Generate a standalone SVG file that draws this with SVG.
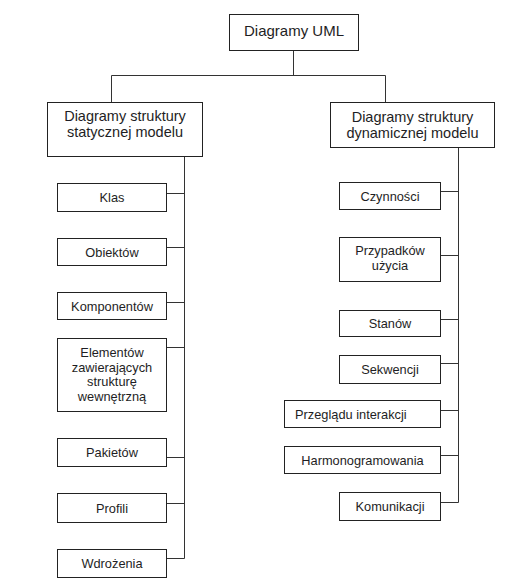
<svg xmlns="http://www.w3.org/2000/svg" width="524" height="583" viewBox="0 0 524 583">
<style>
  .box { fill: #ffffff; stroke: #222222; stroke-width: 1; }
  .conn { fill: none; stroke: #333333; stroke-width: 1; }
  .t { font-family: "Liberation Sans", Arial, sans-serif; fill: #1e1e24; text-anchor: middle; }
  .big { font-size: 15px; }
  .mid { font-size: 14.5px; }
  .small { font-size: 12.8px; }
</style>
<rect width="524" height="583" fill="#ffffff"/>
<g id="connectors">
  <path class="conn" d="M293.5 50 V75.5 M111.5 75.5 H385.5 M111.5 75.5 V102 M385.5 75.5 V102"/>
  <path class="conn" d="M184.5 156 V558.5 M167 193.5 H184.5 M167 247.5 H184.5 M167 302.5 H184.5 M167 347.5 H184.5 M167 457.5 H184.5 M167 503.5 H184.5 M167 558.5 H184.5"/>
  <path class="conn" d="M458.5 147 V502.5 M440 191.5 H458.5 M440 255.5 H458.5 M440 319.5 H458.5 M440 363.5 H458.5 M440 410.5 H458.5 M440 455.5 H458.5 M440 502.5 H458.5"/>
</g>
<g id="root">
  <rect class="box" x="229.5" y="14.5" width="129" height="36"/>
  <text class="t big" x="294" y="36">Diagramy UML</text>
</g>
<g id="static">
  <rect class="box" x="47.5" y="102.5" width="155" height="54"/>
  <text class="t mid" x="125" y="120.5">Diagramy struktury</text>
  <text class="t mid" x="125" y="136.5">statycznej modelu</text>
</g>
<g id="dynamic">
  <rect class="box" x="330.5" y="102.5" width="164" height="45"/>
  <text class="t mid" x="412.5" y="121.5">Diagramy struktury</text>
  <text class="t mid" x="412.5" y="137.5">dynamicznej modelu</text>
</g>
<g id="klas">
  <rect class="box" x="57.5" y="183.5" width="109" height="28"/>
  <text class="t small" x="112" y="202">Klas</text>
</g>
<g id="obiektow">
  <rect class="box" x="57.5" y="238.5" width="109" height="27"/>
  <text class="t small" x="112" y="256.5">Obiektów</text>
</g>
<g id="komponentow">
  <rect class="box" x="57.5" y="292.5" width="109" height="27"/>
  <text class="t small" x="112" y="310.5">Komponentów</text>
</g>
<g id="elementow">
  <rect class="box" x="57.5" y="338.5" width="109" height="73"/>
  <text class="t small" x="112" y="357">Elementów</text>
  <text class="t small" x="112" y="371.5">zawierających</text>
  <text class="t small" x="112" y="386">strukturę</text>
  <text class="t small" x="112" y="400.5">wewnętrzną</text>
</g>
<g id="pakietow">
  <rect class="box" x="57.5" y="438.5" width="109" height="28"/>
  <text class="t small" x="112" y="457">Pakietów</text>
</g>
<g id="profili">
  <rect class="box" x="57.5" y="493.5" width="109" height="29"/>
  <text class="t small" x="112" y="512.5">Profili</text>
</g>
<g id="wdrozenia">
  <rect class="box" x="57.5" y="549.5" width="109" height="28"/>
  <text class="t small" x="112" y="568">Wdrożenia</text>
</g>
<g id="czynnosci">
  <rect class="box" x="339.5" y="182.5" width="101" height="27"/>
  <text class="t small" x="390" y="200.5">Czynności</text>
</g>
<g id="przypadkow">
  <rect class="box" x="339.5" y="237.5" width="101" height="44"/>
  <text class="t small" x="390" y="254.5">Przypadków</text>
  <text class="t small" x="390" y="269.5">użycia</text>
</g>
<g id="stanow">
  <rect class="box" x="339.5" y="310.5" width="101" height="26"/>
  <text class="t small" x="390" y="327.5">Stanów</text>
</g>
<g id="sekwencji">
  <rect class="box" x="339.5" y="355.5" width="101" height="28"/>
  <text class="t small" x="390" y="373.5">Sekwencji</text>
</g>
<g id="przegladu">
  <rect class="box" x="284.5" y="400.5" width="156" height="27"/>
  <text class="t small" x="295" y="418.5" style="text-anchor:start">Przeglądu interakcji</text>
</g>
<g id="harmonogramowania">
  <rect class="box" x="284.5" y="446.5" width="156" height="27"/>
  <text class="t small" x="362.5" y="464.5">Harmonogramowania</text>
</g>
<g id="komunikacji">
  <rect class="box" x="339.5" y="492.5" width="101" height="28"/>
  <text class="t small" x="390" y="511">Komunikacji</text>
</g>
</svg>
